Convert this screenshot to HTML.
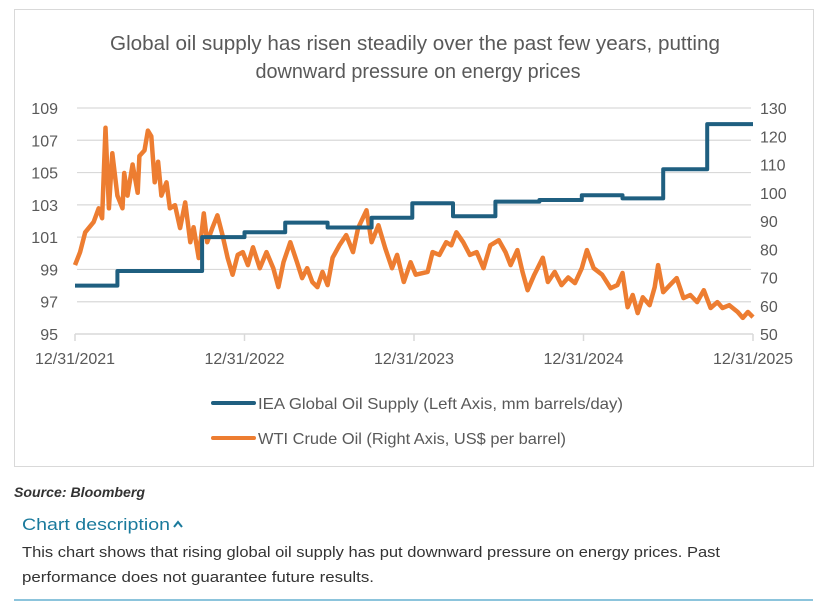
<!DOCTYPE html>
<html><head><meta charset="utf-8"><style>
html,body{margin:0;padding:0;background:#fff;width:830px;height:603px;overflow:hidden}
svg{display:block;font-family:"Liberation Sans",sans-serif}
</style></head><body>
<svg id="chart" width="830" height="603" viewBox="0 0 830 603">
<rect x="14.5" y="9.5" width="799" height="457" fill="#fff" stroke="#d9d9d9"/>
<text x="415" y="50" text-anchor="middle" font-size="20" fill="#595959" textLength="610" lengthAdjust="spacingAndGlyphs">Global oil supply has risen steadily over the past few years, putting</text>
<text x="418" y="78" text-anchor="middle" font-size="20" fill="#595959" textLength="325" lengthAdjust="spacingAndGlyphs">downward pressure on energy prices</text>
<g id="grid"></g><g id="axes"></g><g id="series"></g>
<g>
<line x1="213" y1="403" x2="254" y2="403" stroke="#1f5f80" stroke-width="4" stroke-linecap="round"/>
<text x="258" y="409" font-size="16" fill="#595959" textLength="365" lengthAdjust="spacingAndGlyphs">IEA Global Oil Supply (Left Axis, mm barrels/day)</text>
<line x1="213" y1="438" x2="254" y2="438" stroke="#ed7d31" stroke-width="4" stroke-linecap="round"/>
<text x="258" y="444" font-size="16" fill="#595959" textLength="308" lengthAdjust="spacingAndGlyphs">WTI Crude Oil (Right Axis, US$ per barrel)</text>
</g>
<text x="14" y="497" font-size="14" font-weight="bold" font-style="italic" fill="#333" textLength="131" lengthAdjust="spacingAndGlyphs">Source: Bloomberg</text>
<text x="22" y="530" font-size="17" fill="#1a7a9c" textLength="148" lengthAdjust="spacingAndGlyphs">Chart description</text>
<path d="M174 527 L178 522 L182 527" fill="none" stroke="#1a7a9c" stroke-width="2"/>
<text x="22" y="557" font-size="15" fill="#333" textLength="698" lengthAdjust="spacingAndGlyphs">This chart shows that rising global oil supply has put downward pressure on energy prices. Past</text>
<text x="22" y="582" font-size="15" fill="#333" textLength="352" lengthAdjust="spacingAndGlyphs">performance does not guarantee future results.</text>
<line x1="14" y1="600" x2="813" y2="600" stroke="#8cc4dc" stroke-width="2"/>
</svg>
<script>
const leftTicks=[95,97,99,101,103,105,107,109];
const rightTicks=[50,60,70,80,90,100,110,120,130];
const xTickLabels=["12/31/2021","12/31/2022","12/31/2023","12/31/2024","12/31/2025"];
const supplyT=[0,0.25,0.75,1.0,1.24,1.49,1.75,1.99,2.23,2.48,2.74,2.99,3.23,3.47,3.73,4.0];
const supplyV=[98.0,98.9,101.0,101.3,101.9,101.6,102.2,103.1,102.3,103.2,103.3,103.6,103.4,105.2,108.0,108.0];
const wtiT=[0,.03,.06,.11,.14,.16,.18,.20,.22,.25,.28,.29,.31,.34,.37,.38,.41,.43,.45,.47,.49,.51,.54,.56,.59,.62,.65,.68,.70,.73,.76,.78,.81,.84,.87,.90,.93,.96,.99,1.02,1.05,1.09,1.13,1.17,1.20,1.23,1.27,1.31,1.34,1.37,1.40,1.43,1.46,1.49,1.52,1.56,1.60,1.64,1.67,1.72,1.75,1.79,1.83,1.87,1.90,1.94,1.98,2.01,2.08,2.11,2.15,2.19,2.22,2.25,2.29,2.33,2.37,2.41,2.45,2.50,2.54,2.57,2.61,2.64,2.67,2.71,2.76,2.79,2.83,2.87,2.91,2.95,2.99,3.02,3.06,3.11,3.16,3.20,3.23,3.26,3.29,3.32,3.35,3.39,3.42,3.44,3.47,3.51,3.55,3.59,3.63,3.67,3.71,3.75,3.79,3.82,3.86,3.91,3.94,3.97,4.0];
const wtiV=[74.4,79,86,89.6,94.5,91,123,94.5,114,99,94.5,107,99,110,100,113,115,122,120,103.7,111,99,103.7,94.5,95.6,87.5,96.6,82.5,87.8,76.9,92.7,82.5,87.5,92,85,77,71,78,79,74.4,80.7,73.3,79,73.3,66.6,75.4,82.5,75.4,69.8,73.3,68.4,66.6,72,67.3,77,81.4,85,79,87.5,93.8,82.5,88.5,80.4,73.3,78,68.4,75.4,71,72,79,78,82.5,81.4,86,82.5,78,79,73.3,81.4,83.2,79,74.4,79.7,72,65.5,71,77,68.4,72,67.3,70,68,73.3,79.7,73.3,71,66.2,67.3,71.6,59.5,63.8,57.4,63,60.2,66.6,74.4,64.8,67.3,69.8,62.7,63.8,61.3,65.5,59.2,61.3,59.2,60.2,57.8,55.7,57.8,56];
const NS='http://www.w3.org/2000/svg';
const X0=75,X1=753,Y0=334,Y1=108;
const xs=t=>X0+(X1-X0)*t/4;
const yl=v=>Y0-(v-95)/(109-95)*(Y0-Y1);
const yr=v=>Y0-(v-50)/(130-50)*(Y0-Y1);
function mk(tag,attrs,parent){const e=document.createElementNS(NS,tag);for(const k in attrs)e.setAttribute(k,attrs[k]);document.getElementById(parent).appendChild(e);return e;}
leftTicks.forEach((v,i)=>{
 if(i>0){const g=mk('line',{x1:77,x2:751,y1:yl(v),y2:yl(v),stroke:'#d9d9d9','stroke-width':1.2},'grid');
 
 }
 const t=mk('text',{x:58,y:yl(v)+6,'text-anchor':'end','font-size':16,fill:'#595959'},'axes');t.textContent=v;
 
 
});
rightTicks.forEach(v=>{
 const t=mk('text',{x:760,y:yr(v)+6,'font-size':16,fill:'#595959'},'axes');t.textContent=v;
 
 
});
const ax=mk('line',{x1:75,x2:753,y1:334,y2:334,stroke:'#d9d9d9','stroke-width':1.5},'axes');


xTickLabels.forEach((s,i)=>{
 const tk=mk('line',{x1:xs(i),x2:xs(i),y1:334,y2:341,stroke:'#d9d9d9','stroke-width':1.5},'axes');
 
 
 const t=mk('text',{x:xs(i),y:364,'text-anchor':'middle','font-size':16,fill:'#595959'},'axes');t.textContent=s;
 
 
});
let d='';
wtiT.forEach((t,i)=>{d+=(i?'L':'M')+xs(t).toFixed(1)+' '+yr(wtiV[i]).toFixed(1);});
const w=mk('path',{d:d,fill:'none',stroke:'#ed7d31','stroke-width':4.5,'stroke-linejoin':'round'},'series');


let s='';
supplyT.forEach((t,i)=>{const x=xs(t).toFixed(1),y=yl(supplyV[i]).toFixed(1);
 if(i===0)s='M'+x+' '+y;else s+='H'+x+'V'+y;});
const b=mk('path',{d:s,fill:'none',stroke:'#1f5f80','stroke-width':4,'stroke-linejoin':'round'},'series');


</script>
</body></html>
